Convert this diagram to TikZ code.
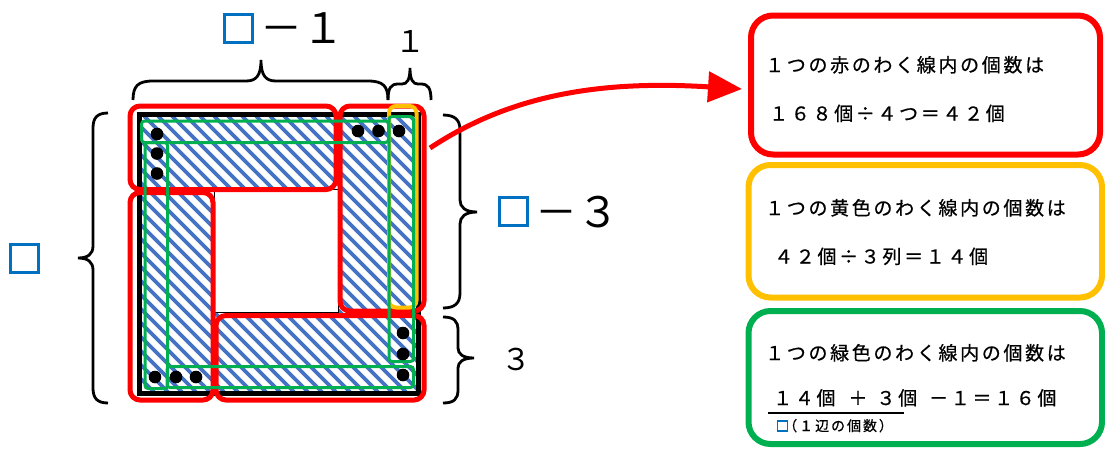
\documentclass[tikz,border=0pt]{standalone}
\usepackage{fontspec}
\newfontfamily\jp{Noto Sans CJK JP}
\newfontfamily\jpbox[LetterSpace=14,FakeBold=0.6]{Noto Sans CJK JP}
\usetikzlibrary{arrows.meta}
\definecolor{myred}{HTML}{FF0000}
\definecolor{myyel}{HTML}{FFC000}
\definecolor{mygrn}{HTML}{00B050}
\definecolor{myblu}{HTML}{0070C0}
\definecolor{hatchblu}{HTML}{4472C4}
\tikzset{
  redframe/.style={draw=myred, line width=5pt, rounded corners=10pt},
  yelframe/.style={draw=myyel, line width=4pt, rounded corners=7pt},
  grnframe/.style={draw=mygrn, line width=3pt, rounded corners=3pt},
  hatchline/.style={draw=hatchblu, line width=3.8pt},
  bracestyle/.style={draw=black, line width=2.8pt},
  bsq/.style={draw=myblu, line width=3pt, minimum size=28pt, inner sep=0pt},
  bsqsmall/.style={draw=myblu, line width=1.8pt, minimum size=10pt, inner sep=0pt},
  biglbl/.style={font=\fontsize{42}{46}\jp, inner sep=0pt},
  midlbl/.style={font=\fontsize{30}{34}\jp, inner sep=0pt},
  infobox/.style={line width=6pt, rounded corners=22pt, inner sep=0pt, fill=white},
  boxtxt/.style={font=\fontsize{19}{22}\jpbox, inner sep=0pt, anchor=base west},
  smalltxt/.style={font=\fontsize{14}{16}\jpbox, inner sep=0pt, anchor=base west},
  dot/.style={fill=black},
  redarrow/.style={draw=myred, line width=5pt, -{Triangle[length=34pt,width=30pt]}}
}
\begin{document}
\begin{tikzpicture}[x=1pt,y=-1pt]
\useasboundingbox (0,0) rectangle (1105,448);
% hatched ring
\begin{scope}
  \clip (141,116) rectangle (417,391);
  \foreach \i in {-290,-276,...,430} \draw[hatchline] (\i,116) -- ++(276,276);
\end{scope}
\draw[line width=5pt] (139,114) rectangle (418.5,393);
\draw[line width=1pt, fill=white] (214,189.5) rectangle (338,312.5);
% red frames
\draw[redframe] (130,106) rectangle (336,189.5);
\draw[redframe] (340,106) rectangle (424,311);
\draw[redframe] (130,192.5) rectangle (213,400);
\draw[redframe] (216,315.5) rectangle (424,400);
% yellow frame
\draw[yelframe] (389,106) rectangle (416.5,307.5);
% green frames
\draw[grnframe] (141.5,121) rectangle (388.5,142.5);
\draw[grnframe] (145,142.5) rectangle (167.5,388.5);
\draw[grnframe] (167,366.5) rectangle (413.5,387.5);
\draw[grnframe] (389,116.5) rectangle (413.5,361.5);
% dots
\foreach \p in {(157,134),(157,153.5),(157,173.5),(358,131),(378.5,131),(399,131),(403,333),(403,354),(403,375),(155,377),(176,377),(196,377)}
  \fill[dot] \p circle (6.3);
% braces
\draw[bracestyle] (133,100) .. controls (133,86) and (138,81) .. (153,81) -- (246,81) .. controls (256,81) and (261,76) .. (261,60) .. controls (261,76) and (266,81) .. (276,81) -- (368,81) .. controls (383,81) and (388,86) .. (388,100);
\draw[bracestyle] (388,100) .. controls (388,88) and (391,84) .. (398,84) -- (402,84) .. controls (407,84) and (410,80) .. (410,68) .. controls (410,80) and (413,84) .. (418,84) -- (421,84) .. controls (428,84) and (431,88) .. (431,100);
\draw[bracestyle] (108,113) .. controls (97,113) and (93,118) .. (93,128) -- (93,246) .. controls (93,254) and (88,258) .. (78,258) .. controls (88,258) and (93,262) .. (93,270) -- (93,388) .. controls (93,398) and (97,403) .. (108,403);
\draw[bracestyle] (443,115) .. controls (455,115) and (460,120) .. (460,130) -- (460,200) .. controls (460,207) and (465,212) .. (477,212) .. controls (465,212) and (460,217) .. (460,224) -- (460,293) .. controls (460,303) and (455,308) .. (443,308);
\draw[bracestyle] (443,317) .. controls (454,317) and (458,321) .. (458,330) -- (458,348) .. controls (458,354) and (463,358) .. (474,358) .. controls (463,358) and (458,362) .. (458,368) -- (458,390) .. controls (458,399) and (454,403) .. (443,403);
% labels
\node[bsq] (sqTop) at (238.5,28.5) {};
\node[biglbl] (lblTop) at (302,28.5) {－１};
\node[midlbl] (lblOne) at (410,41.5) {１};
\node[bsq] (sqLeft) at (24.7,258.3) {};
\node[bsq] (sqRight) at (513.7,211.7) {};
\node[biglbl] (lblRight) at (577,212.5) {－３};
\node[midlbl] (lblThree) at (516,359) {３};
% info boxes
\node[infobox, draw=myred, minimum width=349pt, minimum height=139pt] (redBox) at (925.5,85) {};
\node[infobox, draw=myyel, minimum width=353.5pt, minimum height=132.5pt] (yelBox) at (925.25,231.25) {};
\node[infobox, draw=mygrn, minimum width=353.5pt, minimum height=133pt] (grnBox) at (925.25,377.5) {};
\node[boxtxt] (redT1) at (765,72) {１つの赤のわく線内の個数は};
\node[boxtxt] (redT2) at (769,120.5) {１６８個÷４つ＝４２個};
\node[boxtxt] (yelT1) at (765,215) {１つの黄色のわく線内の個数は};
\node[boxtxt] (yelT2) at (774,263.5) {４２個÷３列＝１４個};
\node[boxtxt] (grnT1) at (765,360) {１つの緑色のわく線内の個数は};
\node[boxtxt] (grnT2) at (773,405) {１４個\hspace{13pt}＋\hspace{9pt}３個\hspace{12pt}－１＝１６個};
\coordinate (ulA) at (768,413);
\coordinate (ulB) at (904,413);
\draw[line width=2.2pt] (ulA) -- (ulB);
\node[bsqsmall] (sqSmall) at (782.5,426) {};
\node[smalltxt] (grnNote) at (783,431) {（１辺の個数）};
% arrow
\coordinate (arrS) at (430,148);
\coordinate (arrE) at (742,89);
\draw[redarrow] (arrS) .. controls (510,95) and (600,80) .. (arrE);
\end{tikzpicture}
\end{document}
